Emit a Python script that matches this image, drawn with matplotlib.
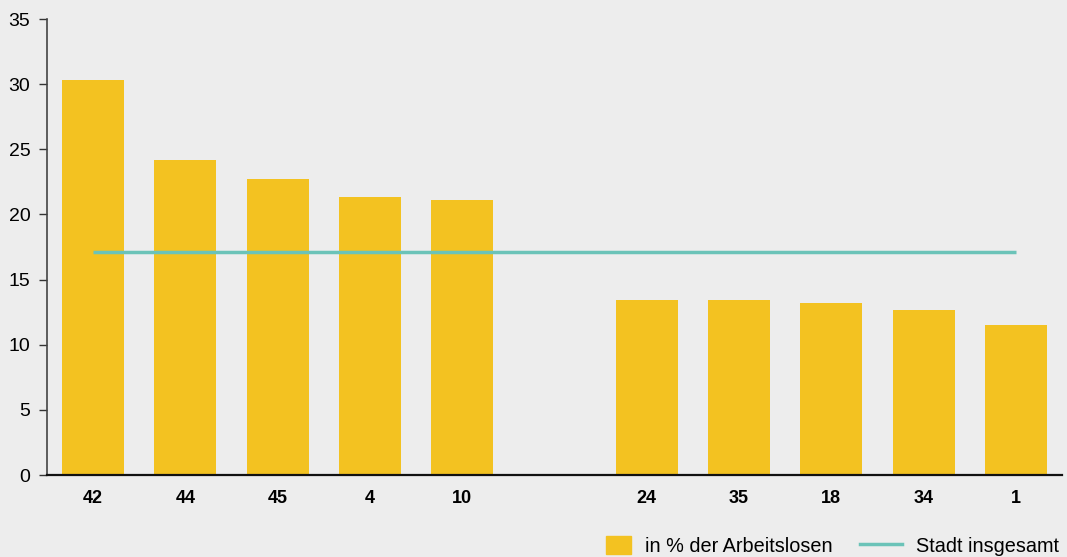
import numpy as np
from matplotlib import pyplot as plt
from matplotlib.lines import Line2D
from matplotlib.patches import Patch, Rectangle
from matplotlib.legend_handler import HandlerPatch

plt.rcParams['font.family'] = ['Liberation Sans', 'DejaVu Sans']

# highest and lowest districts, separated by an empty slot
top_labels = ['42', '44', '45', '4', '10']
top_values = [30.3, 24.2, 22.7, 21.3, 21.1]
low_labels = ['24', '35', '18', '34', '1']
low_values = [13.4, 13.4, 13.2, 12.7, 11.5]
city_total = 17.1

bg = '#ededed'
bar_color = '#f3c221'
line_color = '#6bc3b8'

labels = top_labels + low_labels
values = top_values + low_values
x = list(range(len(top_labels))) + [len(top_labels) + 1 + i for i in range(len(low_labels))]

fig = plt.figure(figsize=(10.67, 5.57), dpi=100, facecolor=bg)
ax = fig.add_axes([47 / 1067, 82 / 557, 1015 / 1067, 456 / 557])
ax.set_facecolor(bg)

ax.bar(x, values, width=0.67, color=bar_color, zorder=2)
ax.hlines(city_total, x[0], x[-1], color=line_color, linewidth=2.5, zorder=3)

ax.set_xlim(-0.5, x[-1] + 0.5)
ax.set_ylim(0, 35)
ax.set_yticks(range(0, 36, 5))
ax.set_xticks(x)
ax.set_xticklabels(labels, fontsize=13, fontweight='semibold')
ax.tick_params(axis='x', length=0, pad=11)
ax.tick_params(axis='y', length=6, width=1, color='#333333', labelsize=14, pad=6)

for s in ['top', 'right']:
    ax.spines[s].set_visible(False)
ax.spines['left'].set_color('#444444')
ax.spines['left'].set_linewidth(1.2)
ax.spines['bottom'].set_color('#111111')
ax.spines['bottom'].set_linewidth(1.6)


def square_patch(legend, orig_handle, xdescent, ydescent, width, height, fontsize):
    # small square swatch, right-aligned in the handle box
    side_w = 0.6 * width
    return Rectangle((width - side_w - xdescent, -ydescent), side_w, height)


handles = [Patch(color=bar_color, label='in % der Arbeitslosen'),
           Line2D([], [], color=line_color, linewidth=2.5, label='Stadt insgesamt')]
fig.legend(handles=handles, loc='lower right', bbox_to_anchor=(1.009, -0.03), ncol=2,
           frameon=False, fontsize=14.3, handlelength=2.1, handleheight=1.0,
           columnspacing=1.4, handletextpad=0.7,
           handler_map={Patch: HandlerPatch(patch_func=square_patch)})

fig.savefig('out.png', dpi=100, facecolor=bg)
